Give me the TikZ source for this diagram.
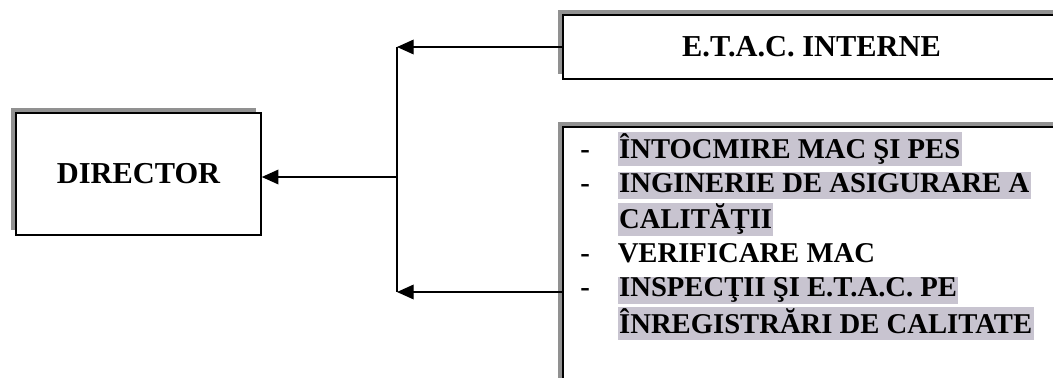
\documentclass[tikz,border=0pt]{standalone}
\usepackage{fontspec}
\setmainfont{Liberation Serif}
\usepackage{tikz}
\usetikzlibrary{arrows.meta, shadows, positioning}
\definecolor{shade}{RGB}{145,145,145}
\definecolor{marker}{RGB}{200,196,208}
\newcommand{\marked}[1]{{\setlength{\fboxsep}{1pt}\colorbox{marker}{\rule[-4pt]{0pt}{17pt}#1}}}

\begin{document}
\begin{tikzpicture}[x=0.75pt, y=-0.75pt,
    unit/.style={draw, line width=1.2pt, fill=white,
      general shadow={fill=shade, shadow xshift=-3.75pt, shadow yshift=3.75pt},
      font=\fontsize{22.8}{27}\selectfont\bfseries},
    link/.style={line width=1pt, -{Triangle[length=12.5pt, width=11pt]}}]
  \useasboundingbox (0,0) rectangle (1053,378);
  \clip (0,0) rectangle (1053,378);
  \node[unit, minimum width=183.75pt, minimum height=91.5pt] (director) at (138.5,174) {DIRECTOR};
  \node[unit, minimum width=372.75pt, minimum height=48pt] (etac) at (811.5,47) {E.T.A.C. INTERNE};
  \node[unit, minimum width=372.75pt, minimum height=219.75pt] (tasks) at (811.5,273.5) {};
  \node[anchor=north west, inner sep=0pt, font=\fontsize{21.5}{25.5}\selectfont\bfseries] (list) at (580,132)
    {\begin{tabular}{@{}l@{\hspace{21pt}}l@{}}
      - & \marked{ÎNTOCMIRE MAC ŞI PES}\\
      - & \marked{INGINERIE DE ASIGURARE A}\\
        & \marked{CALITĂŢII}\\
      - & VERIFICARE MAC\\
      - & \marked{INSPECŢII ŞI E.T.A.C. PE}\\
        & \marked{ÎNREGISTRĂRI DE CALITATE}
    \end{tabular}};
  \coordinate (jtop) at (397,47);
  \coordinate (jmid) at (397,177);
  \coordinate (jbot) at (397,292);
  \draw[link] (etac.west) -- (jtop);
  \draw[link] (tasks.west |- jbot) -- (jbot);
  \draw[line width=1pt] (jtop) -- (jbot);
  \draw[link] (jmid) -- (director.east |- jmid);
\end{tikzpicture}
\end{document}
